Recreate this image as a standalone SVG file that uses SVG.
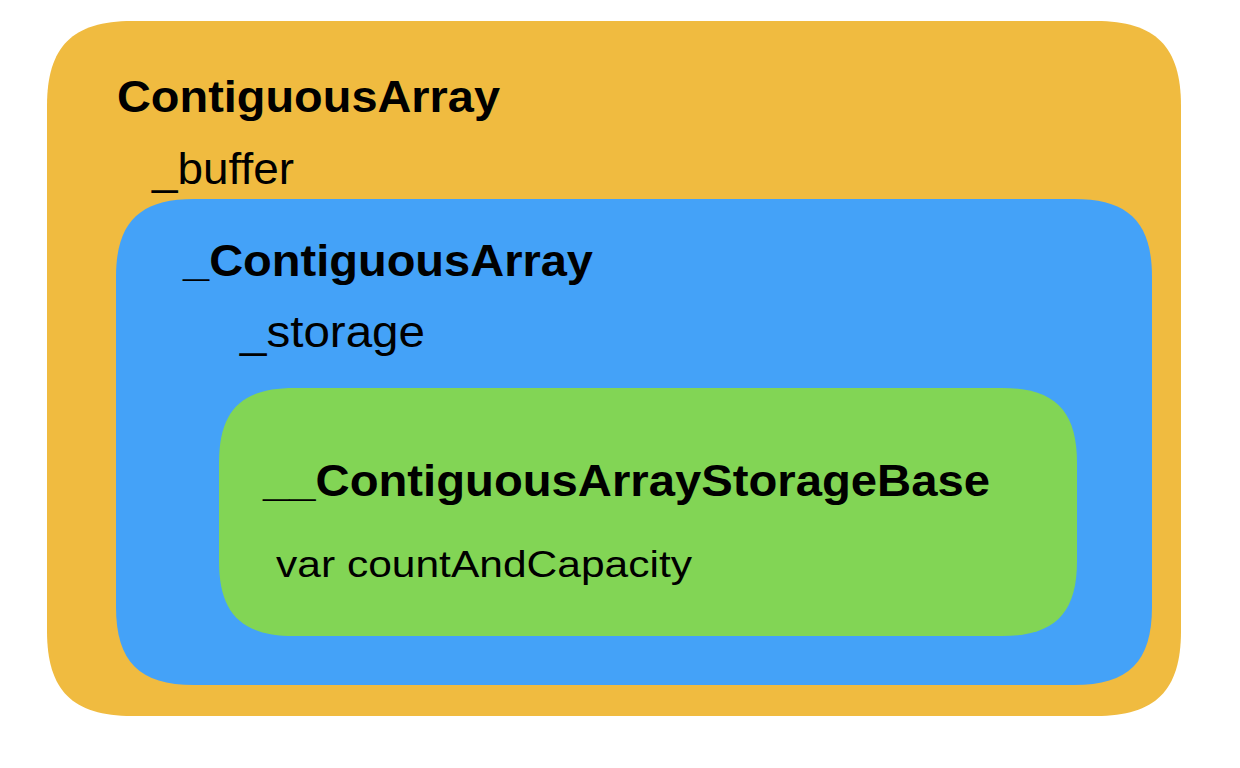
<svg xmlns="http://www.w3.org/2000/svg" width="1240" height="768" viewBox="0 0 1240 768">
  <style>
    text { font-family: "Liberation Sans", Arial, Helvetica, sans-serif; fill: #000; }
    .title { font-size: 45px; font-weight: bold; }
    .field { font-size: 45px; }
    .small { font-size: 36px; }
  </style>
  <rect x="0" y="0" width="1240" height="768" fill="#ffffff"/>
  <g id="contiguous-array">
    <path fill="#F0BB40" d="M 132,21 H 1096 C 1155.5,21 1181,46.5 1181,106 V 631 C 1181,690.5 1155.5,716 1096,716 H 132 C 72.5,716 47,690.5 47,631 V 106 C 47,46.5 72.5,21 132,21 Z"/>
    <text class="title" x="117" y="112" textLength="383" lengthAdjust="spacingAndGlyphs">ContiguousArray</text>
    <text class="field" x="152" y="184" textLength="142" lengthAdjust="spacingAndGlyphs">_buffer</text>
  </g>
  <g id="contiguous-array-buffer">
    <path fill="#44A2F8" d="M 194,199 H 1074 C 1128.6,199 1152,222.4 1152,277 V 607 C 1152,661.6 1128.6,685 1074,685 H 194 C 139.4,685 116,661.6 116,607 V 277 C 116,222.4 139.4,199 194,199 Z"/>
    <text class="title" x="183" y="276" textLength="410" lengthAdjust="spacingAndGlyphs">_ContiguousArray</text>
    <text class="field" x="240" y="347" textLength="185" lengthAdjust="spacingAndGlyphs">_storage</text>
  </g>
  <g id="storage-base">
    <path fill="#82D555" d="M 294,388 H 1002 C 1054.5,388 1077,410.5 1077,463 V 561 C 1077,613.5 1054.5,636 1002,636 H 294 C 241.5,636 219,613.5 219,561 V 463 C 219,410.5 241.5,388 294,388 Z"/>
    <text class="title" x="263" y="496" textLength="727" lengthAdjust="spacingAndGlyphs">__ContiguousArrayStorageBase</text>
    <text class="small" x="276" y="577" textLength="416" lengthAdjust="spacingAndGlyphs">var countAndCapacity</text>
  </g>
  <g id="connectors"/>
</svg>
